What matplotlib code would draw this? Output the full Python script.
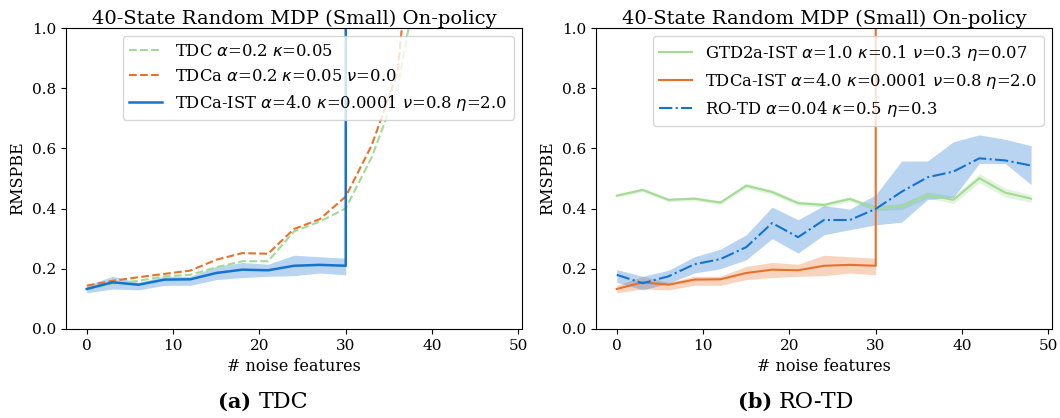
import matplotlib
matplotlib.use("Agg")
import matplotlib.pyplot as plt
import numpy as np

plt.rcParams["font.family"] = "DejaVu Serif"

# nombre de features de bruit
x = [0, 3, 6, 9, 12, 15, 18, 21, 24, 27, 30, 33, 36, 39, 42, 45, 48]

# (a) TDC
tdc = [0.13, 0.15, 0.16, 0.175, 0.18, 0.205, 0.225, 0.225, 0.324, 0.357, 0.401,
       0.57, 0.80, 1.27, 2.5, 5.0, 10.0]
tdca = [0.144, 0.16, 0.172, 0.183, 0.194, 0.23, 0.252, 0.25, 0.332, 0.365, 0.44,
        0.61, 0.85, 1.75, 3.5, 7.0, 14.0]
# TDCa-IST diverge après 30 features
tdca_ist = [0.133, 0.155, 0.147, 0.164, 0.165, 0.186, 0.197, 0.195, 0.21, 0.213, 0.21,
            1e4, 1e4, 1e4, 1e4, 1e4, 1e4]
tdca_ist_lo = [0.12, 0.133, 0.13, 0.145, 0.145, 0.164, 0.171, 0.175, 0.177, 0.186, 0.18]
tdca_ist_hi = [0.145, 0.175, 0.155, 0.175, 0.175, 0.208, 0.221, 0.215, 0.245, 0.24, 0.235]

# (b) RO-TD
gtd2a_ist = [0.443, 0.462, 0.429, 0.433, 0.42, 0.476, 0.455, 0.418, 0.412, 0.432, 0.401,
             0.407, 0.445, 0.429, 0.501, 0.453, 0.433]
gtd2a_ist_err = [0.006, 0.006, 0.006, 0.006, 0.006, 0.008, 0.008, 0.008, 0.008, 0.008, 0.008,
                 0.01, 0.01, 0.012, 0.015, 0.015, 0.012]
ro_td = [0.18, 0.152, 0.175, 0.215, 0.232, 0.272, 0.352, 0.305, 0.362, 0.362, 0.399,
         0.456, 0.504, 0.523, 0.567, 0.56, 0.543]
ro_td_lo = [0.155, 0.13, 0.152, 0.186, 0.2, 0.23, 0.3, 0.252, 0.313, 0.33, 0.346,
            0.355, 0.43, 0.437, 0.55, 0.55, 0.48]
ro_td_hi = [0.197, 0.175, 0.195, 0.24, 0.265, 0.313, 0.405, 0.363, 0.41, 0.398, 0.446,
            0.558, 0.558, 0.622, 0.645, 0.63, 0.609]

green = "#a3db94"
orange = "#e8712b"
blue = "#1473d0"
title = "40-State Random MDP (Small) On-policy"

fig = plt.figure(figsize=(10.6, 4.18), dpi=100)
ax1 = fig.add_axes([0.0623, 0.213, 0.430, 0.720])
ax2 = fig.add_axes([0.5623, 0.213, 0.430, 0.720])

xs = np.array(x)
n_ist = len(tdca_ist_lo)

ax1.plot(xs, tdc, "--", color=green, lw=1.5, label=r"TDC $\alpha$=0.2 $\kappa$=0.05")
ax1.plot(xs, tdca, "--", color=orange, lw=1.5,
         label=r"TDCa $\alpha$=0.2 $\kappa$=0.05 $\nu$=0.0")
ax1.fill_between(xs[:n_ist], tdca_ist_lo, tdca_ist_hi, color=blue, alpha=0.3, lw=0)
ax1.plot(xs, tdca_ist, "-", color=blue, lw=1.8,
         label=r"TDCa-IST $\alpha$=4.0 $\kappa$=0.0001 $\nu$=0.8 $\eta$=2.0")

g = np.array(gtd2a_ist)
ge = np.array(gtd2a_ist_err)
ax2.fill_between(xs, g - ge, g + ge, color=green, alpha=0.3, lw=0)
ax2.plot(xs, g, "-", color=green, lw=1.5,
         label=r"GTD2a-IST $\alpha$=1.0 $\kappa$=0.1 $\nu$=0.3 $\eta$=0.07")
ax2.fill_between(xs[:n_ist], tdca_ist_lo, tdca_ist_hi, color=orange, alpha=0.3, lw=0)
ax2.plot(xs, tdca_ist, "-", color=orange, lw=1.5,
         label=r"TDCa-IST $\alpha$=4.0 $\kappa$=0.0001 $\nu$=0.8 $\eta$=2.0")
ax2.fill_between(xs, ro_td_lo, ro_td_hi, color=blue, alpha=0.3, lw=0)
ax2.plot(xs, ro_td, "-.", color=blue, lw=1.5, label=r"RO-TD $\alpha$=0.04 $\kappa$=0.5 $\eta$=0.3")

for ax in (ax1, ax2):
    ax.set_xlim(-2.4, 50.4)
    ax.set_ylim(0, 1.0)
    ax.set_xticks([0, 10, 20, 30, 40, 50])
    ax.set_yticks([0.0, 0.2, 0.4, 0.6, 0.8, 1.0])
    ax.tick_params(labelsize=11)
    ax.set_title(title, fontsize=14, pad=0)
    ax.set_xlabel("# noise features", fontsize=11.5)
    ax.set_ylabel("RMSPBE", fontsize=11.5)
    ax.legend(loc="upper right", fontsize=11.8)

for cx, tag, name in [(0.244, "(a)", "TDC"), (0.735, "(b)", "RO-TD")]:
    fig.text(cx, 0.038, tag + " ", ha="right", va="center", fontsize=15, fontweight="bold")
    fig.text(cx, 0.038, name, ha="left", va="center", fontsize=16)

fig.savefig("out.png", dpi=100)
